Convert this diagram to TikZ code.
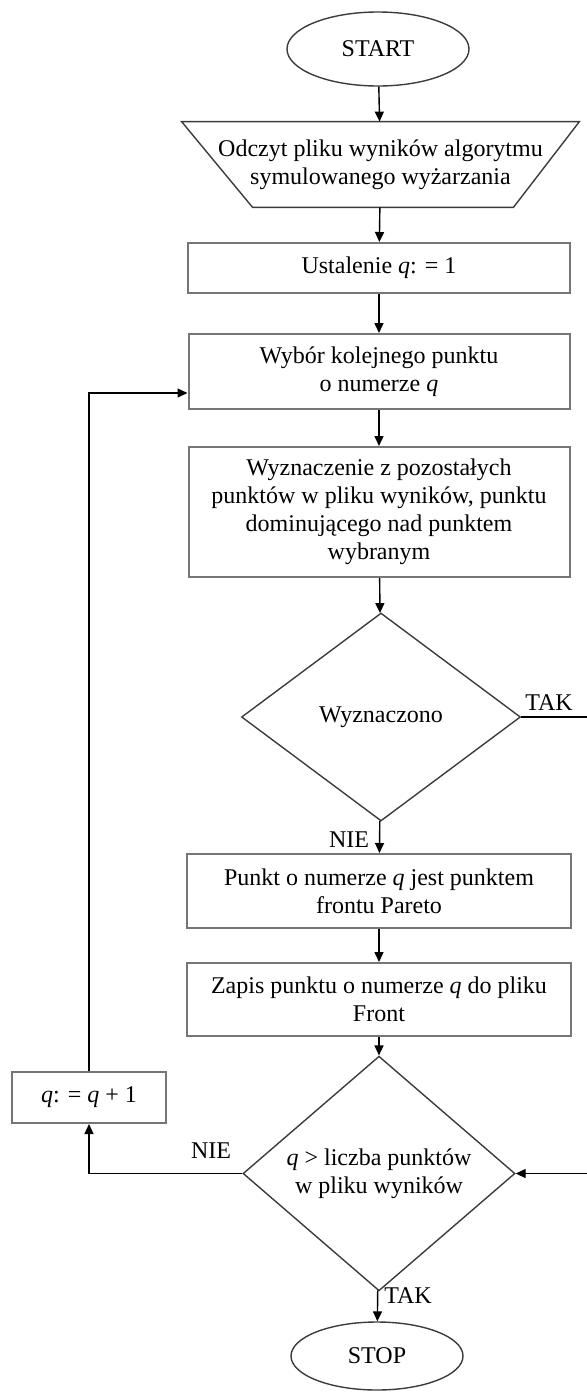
\documentclass[tikz,border=0pt]{standalone}
\usepackage{fontspec}
\setmainfont{Liberation Serif}
\usetikzlibrary{shapes.geometric,arrows.meta,calc}
\definecolor{boxgray}{RGB}{118,118,118}
\definecolor{linegray}{RGB}{60,60,60}
\begin{document}
\begin{tikzpicture}[x=0.5pt,y=-0.5pt,
  every node/.style={font=\fontsize{12}{14}\selectfont, text=black},
  flowbox/.style={draw=boxgray, line width=1pt, rectangle, align=center, inner sep=2pt},
  decision/.style={draw=linegray, line width=0.7pt, diamond, align=center, inner sep=0pt},
  terminal/.style={draw=linegray, line width=0.7pt, ellipse, inner sep=0pt},
  link/.style={draw=black, line width=0.7pt, -{Triangle[length=5pt,width=4.5pt]}},
  lbl/.style={inner sep=1pt}
]
\useasboundingbox (0,0) rectangle (587,1393);

% terminals
\node[terminal, minimum width=91pt, minimum height=37pt] (start) at (378,49) {START};
\node[terminal, minimum width=86pt, minimum height=34pt] (stop) at (377,1356) {STOP};

% input (inverted trapezoid)
\node[rectangle, inner sep=0pt, minimum width=198.5pt, minimum height=42.5pt, align=center]
  (read) at (380.5,164.5) {Odczyt pliku wyników algorytmu\\symulowanego wyżarzania};
\draw[draw=linegray, line width=0.7pt] (read.north west) -- (read.north east)
  -- ($(read.south east)+(-66,0)$) -- ($(read.south west)+(71,0)$) -- cycle;

% process boxes
\node[flowbox, minimum width=191pt, minimum height=25pt] (init) at (379,268) {Ustalenie \textit{q}: = 1};
\node[flowbox, minimum width=190.5pt, minimum height=37.5pt] (pick) at (379,371.5) {Wybór kolejnego punktu\\o numerze \textit{q}};
\node[flowbox, minimum width=190.5pt, minimum height=65pt] (find) at (379,512)
  {Wyznaczenie z pozostałych\\punktów w pliku wyników, punktu\\dominującego nad punktem\\wybranym};
\node[decision, minimum width=139.5pt, minimum height=104pt] (d1) at (381,717) {Wyznaczono};
\node[flowbox, minimum width=192pt, minimum height=37pt] (pareto) at (379,891) {Punkt o numerze \textit{q} jest punktem\\frontu Pareto};
\node[flowbox, minimum width=192pt, minimum height=36.5pt] (save) at (379,999.5) {Zapis punktu o numerze \textit{q} do pliku\\Front};
\node[decision, minimum width=136pt, minimum height=103.5pt] (d2) at (379,1173.5) {\textit{q} > liczba punktów\\w pliku wyników};
\node[flowbox, minimum width=77pt, minimum height=25.5pt] (incr) at (89,1097.5) {\textit{q}: = \textit{q} + 1};

% helper points
\coordinate (pickin) at ($(pick.west)+(0,21.5)$);
\coordinate (r1) at (592,717);
\coordinate (r2) at (592,1173.5);

% main flow
\draw[link] (start) -- (read);
\draw[link] (read) -- (init);
\draw[link] (init) -- (pick);
\draw[link] (pick) -- (find);
\draw[link] (find) -- (d1);
\draw[link] (d1) -- (pareto);
\draw[link] (pareto) -- (save);
\draw[link] (save) -- (d2);
\draw[link] (d2) -- (stop);

% branches
\draw[link] (d1.east) -- (r1) -- (r2) -- (d2.east);
\draw[link] (d2.west) -| (incr.south);
\draw[link] (incr.north) |- (pickin);

% branch labels
\node[lbl] (l1) at (549,703) {TAK};
\node[lbl] (l2) at (349,840) {NIE};
\node[lbl] (l3) at (211,1151) {NIE};
\node[lbl] (l4) at (408,1296) {TAK};
\end{tikzpicture}
\end{document}
